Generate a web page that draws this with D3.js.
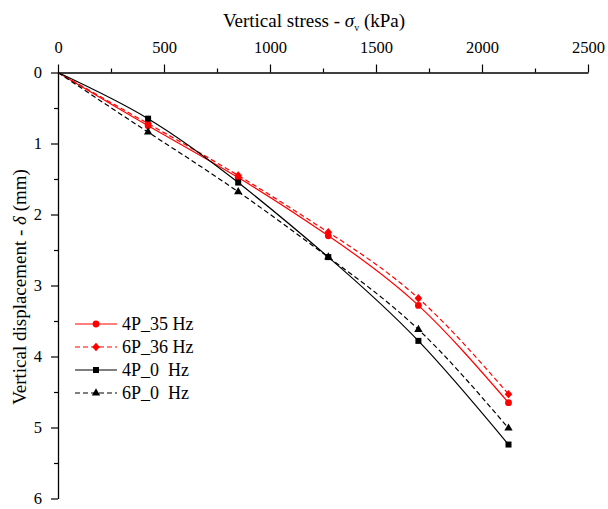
<!DOCTYPE html>
<html>
<head>
<meta charset="utf-8">
<script src="https://cdn.jsdelivr.net/npm/d3@7"></script>
<style>
  body { margin: 0; background: #fff; }
  svg text { font-family: "Liberation Serif", "Times New Roman", serif !important; }
</style>
</head>
<body>
<svg width="608" height="509"></svg>
<script>
const STRESS = [0, 425, 850, 1275, 1700, 2125];
const SERIES_NAMES = ['4P_35 Hz', '6P_36 Hz', '4P_0  Hz', '6P_0  Hz'];
const DISP_4P_35 = [0, 0.75, 1.48, 2.30, 3.28, 4.65];
const DISP_6P_36 = [0, 0.72, 1.45, 2.25, 3.18, 4.53];
const DISP_4P_0 = [0, 0.65, 1.55, 2.60, 3.78, 5.24];
const DISP_6P_0 = [0, 0.84, 1.68, 2.60, 3.62, 5.01];
const X_TICKS = [0, 500, 1000, 1500, 2000, 2500];
const Y_TICKS = [0, 1, 2, 3, 4, 5, 6];

const series = [
  { name: SERIES_NAMES[0], values: DISP_4P_35, color: '#ff0000', dash: null, marker: 'circle' },
  { name: SERIES_NAMES[1], values: DISP_6P_36, color: '#ff0000', dash: '5,3', marker: 'diamond' },
  { name: SERIES_NAMES[2], values: DISP_4P_0, color: '#000000', dash: null, marker: 'square' },
  { name: SERIES_NAMES[3], values: DISP_6P_0, color: '#000000', dash: '5,3', marker: 'triangle' }
];

const svg = d3.select('svg');
const margin = { top: 72.5, left: 58 };
const width = 530;
const height = 426;
const g = svg.append('g').attr('transform', `translate(${margin.left},${margin.top})`);

const x = d3.scaleLinear().domain([0, 2500]).range([0, width]);
const y = d3.scaleLinear().domain([0, 6]).range([0, height]);

// top axis with minor ticks
g.append('g')
    .call(d3.axisTop(x).tickValues(X_TICKS).tickFormat(d3.format('d'))
      .tickSize(8).tickPadding(12).tickSizeOuter(0));
g.append('g')
    .call(d3.axisTop(x).tickValues(d3.range(250, 2500, 500)).tickSize(4).tickFormat('').tickSizeOuter(0))
    .select('.domain').remove();

// left axis with minor ticks
g.append('g')
    .call(d3.axisLeft(y).tickValues(Y_TICKS).tickFormat(d3.format('d'))
      .tickSize(7).tickPadding(9).tickSizeOuter(0));
g.append('g')
    .call(d3.axisLeft(y).tickValues(d3.range(0.5, 6, 1)).tickSize(4).tickFormat('').tickSizeOuter(0))
    .select('.domain').remove();

svg.selectAll('.domain').attr('stroke-width', 1.3);
svg.selectAll('.tick line').attr('stroke-width', 1.2);
svg.selectAll('.tick text').attr('font-size', 16.5);

// axis titles
const xt = svg.append('text')
    .attr('x', 314).attr('y', 27)
    .attr('text-anchor', 'middle')
    .attr('font-size', 19);
xt.append('tspan').text('Vertical stress - ');
xt.append('tspan').attr('font-style', 'italic').text('σ');
xt.append('tspan').attr('font-size', 10).attr('dy', 4).text('v');
xt.append('tspan').attr('dy', -4).text(' (kPa)');

const yt = svg.append('text')
    .attr('transform', 'translate(26,287) rotate(-90)')
    .attr('text-anchor', 'middle')
    .attr('font-size', 19);
yt.append('tspan').text('Vertical displacement - ');
yt.append('tspan').attr('font-style', 'italic').text('δ');
yt.append('tspan').text(' (mm)');

const line = d3.line()
    .x((d, i) => x(STRESS[i]))
    .y(d => y(d))
    .curve(d3.curveNatural);

function drawMarker(sel, type, color, cx, cy) {
  if (type === 'circle') {
    sel.append('circle').attr('cx', cx).attr('cy', cy).attr('r', 3.4).attr('fill', color);
  } else if (type === 'diamond') {
    sel.append('path').attr('d', 'M0,-4.2L3.8,0L0,4.2L-3.8,0Z')
      .attr('transform', `translate(${cx},${cy})`).attr('fill', color);
  } else if (type === 'square') {
    sel.append('rect').attr('x', cx - 3).attr('y', cy - 3).attr('width', 6).attr('height', 6).attr('fill', color);
  } else {
    sel.append('path').attr('d', d3.symbol(d3.symbolTriangle, 30)())
      .attr('transform', `translate(${cx},${cy})`).attr('fill', color);
  }
}

series.forEach(s => {
  g.append('path')
      .datum(s.values)
      .attr('fill', 'none')
      .attr('stroke', s.color)
      .attr('stroke-width', 1.2)
      .attr('stroke-dasharray', s.dash)
      .attr('d', line);
  const mg = g.append('g');
  s.values.forEach((v, i) => {
    if (i === 0) return;
    drawMarker(mg, s.marker, s.color, x(STRESS[i]), y(v));
  });
});

// legend
const legend = svg.append('g').attr('transform', 'translate(75,324)');
series.forEach((s, i) => {
  const row = legend.append('g').attr('transform', `translate(0,${i * 23})`);
  row.append('line')
      .attr('x1', 0).attr('x2', 42)
      .attr('stroke', s.color)
      .attr('stroke-width', 1.2)
      .attr('stroke-dasharray', s.dash);
  drawMarker(row, s.marker, s.color, 21, 0);
  row.append('text')
      .attr('x', 47).attr('y', 6)
      .attr('font-size', 18)
      .attr('xml:space', 'preserve')
      .style('white-space', 'pre')
      .text(s.name);
});
</script>
</body>
</html>
